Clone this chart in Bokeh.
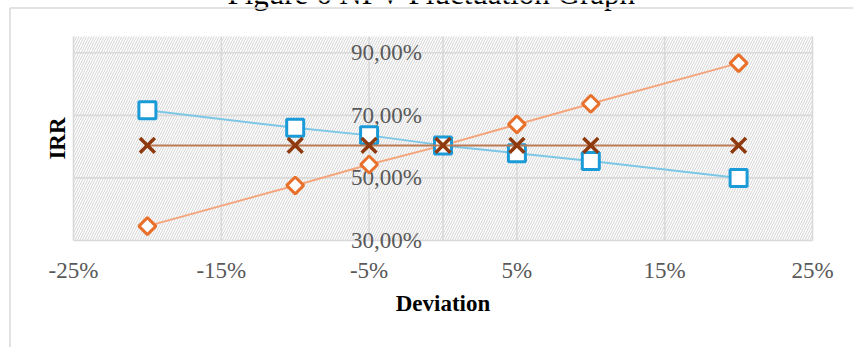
import math

from bokeh.core.properties import value
from bokeh.embed import file_html
from bokeh.models import Range1d
from bokeh.plotting import figure
from bokeh.resources import INLINE

# Sensitivity of IRR to a deviation of the input variables
deviation = [-0.20, -0.10, -0.05, 0.0, 0.05, 0.10, 0.20]
irr_rising = [0.346, 0.476, 0.543, 0.604, 0.671, 0.737, 0.867]
irr_falling = [0.716, 0.660, 0.636, 0.604, 0.579, 0.554, 0.500]
irr_flat = [0.604, 0.604, 0.604, 0.604, 0.604, 0.604, 0.604]

x_ticks = [-0.25, -0.15, -0.05, 0.05, 0.15, 0.25]
x_tick_labels = ["-25%", "-15%", "-5%", "5%", "15%", "25%"]
y_ticks = [0.30, 0.50, 0.70, 0.90]
y_tick_labels = ["30,00%", "50,00%", "70,00%", "90,00%"]
x_min, x_max = -0.25, 0.25
y_min, y_max = 0.30, 0.952

title_text = "Figure 6 NPV Fluctuation Graph"
x_title = "Deviation"
y_title = "IRR"

SERIF = "Liberation Serif"
GRID = "#d9d9d9"
LABEL_GREY = "#595959"

# canvas and plot-area box in pixels
W, H = 853, 347
AREA_L, AREA_R, AREA_T, AREA_B = 73, 812, 36, 240

# the frame covers the whole canvas; the plot area is drawn inside it
kx = (AREA_R - AREA_L) / (x_max - x_min)
ky = (AREA_B - AREA_T) / (y_max - y_min)
x_start, x_end = x_min - AREA_L / kx, x_max + (W - AREA_R) / kx
y_start, y_end = y_min - (H - AREA_B) / ky, y_max + AREA_T / ky


def px_x(px):
    return x_start + px / kx


def px_y(py):
    return y_end - py / ky


p = figure(width=W, height=H, output_backend="svg", toolbar_location=None,
           x_range=Range1d(x_start, x_end), y_range=Range1d(y_start, y_end),
           x_axis_location=None, y_axis_location=None,
           min_border=0)
p.outline_line_color = None
p.background_fill_color = "white"
p.border_fill_color = "white"
p.grid.visible = False

# chart title, running off the top edge
p.text(x=[px_x(431)], y=[y_end], text=[title_text], y_offset=-7,
       text_align="center", text_baseline="alphabetic",
       text_font=value(SERIF), text_font_size="31px", text_color="black")

# chart border: top and left edges
p.segment(x0=[px_x(9.5), px_x(9.5)], y0=[px_y(7.5), px_y(7.5)],
          x1=[px_x(W + 5), px_x(9.5)], y1=[px_y(7.5), px_y(H + 5)],
          line_color=GRID, line_width=1.5)

# hatched plot area
p.quad(left=[x_min], right=[x_max], bottom=[y_min], top=[y_max],
       fill_color="white", line_color=None,
       hatch_pattern="right_diagonal_line", hatch_color="#d2d2d2",
       hatch_scale=5, hatch_weight=1)

# gridlines and the vertical axis line at 0
p.segment(x0=x_ticks, x1=x_ticks, y0=[y_min] * len(x_ticks),
          y1=[y_max] * len(x_ticks), line_color=GRID, line_width=1.6)
p.segment(x0=[x_min] * len(y_ticks), x1=[x_max] * len(y_ticks),
          y0=y_ticks, y1=y_ticks, line_color=GRID, line_width=1.6)
p.segment(x0=[0.0], x1=[0.0], y0=[y_min], y1=[y_max],
          line_color=GRID, line_width=1.6)

# tick labels
p.text(x=x_ticks, y=[y_min] * len(x_ticks), text=x_tick_labels, y_offset=30,
       text_align="center", text_baseline="middle",
       text_font=value(SERIF), text_font_size="23px", text_color=LABEL_GREY)
p.text(x=[0.0] * len(y_ticks), y=y_ticks, text=y_tick_labels, x_offset=-21,
       text_align="right", text_baseline="middle",
       text_font=value(SERIF), text_font_size="23px", text_color=LABEL_GREY)

# axis titles
p.text(x=[0.0], y=[y_min], text=[x_title], y_offset=63,
       text_align="center", text_baseline="middle",
       text_font=value(SERIF), text_font_size="23px",
       text_font_style="bold", text_color="black")
p.text(x=[x_min], y=[(y_min + y_max) / 2], text=[y_title], x_offset=-16,
       angle=math.pi / 2, text_align="center", text_baseline="middle",
       text_font=value(SERIF), text_font_size="23px",
       text_font_style="bold", text_color="black")

# series
p.line(deviation, irr_rising, line_color="#f4a57c", line_width=2)
p.scatter(deviation, irr_rising, marker="square", angle=math.pi / 4, size=12,
          line_color="#e8702a", line_width=3, fill_color="white")

p.line(deviation, irr_falling, line_color="#7cc6e6", line_width=2)
p.scatter(deviation, irr_falling, marker="square", size=17,
          line_color="#1a9ad6", line_width=3, fill_color="white")

p.line(deviation, irr_flat, line_color="#bb7b55", line_width=2)
p.scatter(deviation, irr_flat, marker="x", size=21,
          line_color="#8e3a0e", line_width=3.5)

open("out.html", "w").write(file_html(p, INLINE))
